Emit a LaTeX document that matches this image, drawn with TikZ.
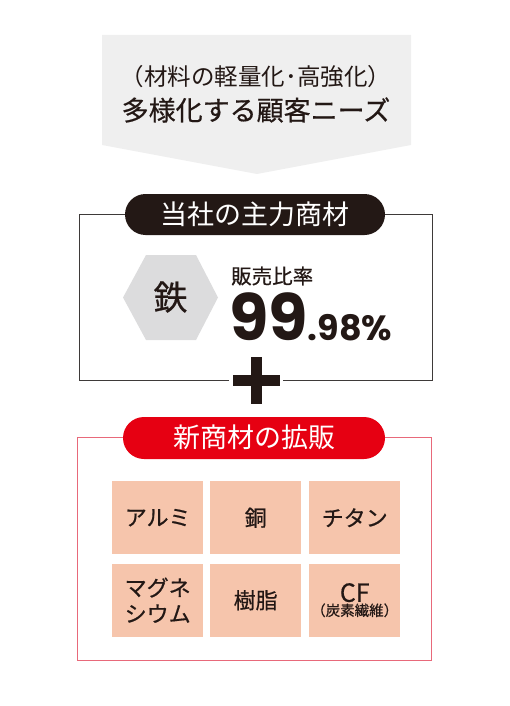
\documentclass[tikz,border=0pt]{standalone}
\usepackage{fontspec}
\setmainfont{Noto Sans CJK JP}
\newfontfamily\jp{Noto Sans CJK JP}
\newfontfamily\jpm[FakeBold=0.6]{Noto Sans CJK JP}
\newfontfamily\pop{Poppins}
\definecolor{inkdark}{HTML}{231815}
\definecolor{arrowgray}{HTML}{EFEFEF}
\definecolor{hexgray}{HTML}{DCDCDD}
\definecolor{pillred}{HTML}{E60012}
\definecolor{redline}{HTML}{E8697A}
\definecolor{tilesalmon}{HTML}{F6C5AC}
\definecolor{boxline}{HTML}{3E3A39}
\tikzset{
  pill/.style={rounded rectangle},
  pilltext/.style={text=white, font=\jp\fontsize{27}{27}\selectfont},
  tile/.style={fill=tilesalmon, minimum width=91pt, minimum height=73pt, inner sep=0pt, anchor=north west, align=center, text=inkdark, font=\jpm\fontsize{22}{26}\selectfont},
}
\usetikzlibrary{shapes.misc}
\begin{document}
\begin{tikzpicture}[x=1pt,y=-1pt]
\useasboundingbox (0,0) rectangle (510,706);
% top gray arrow
\fill[arrowgray] (102,35) -- (411,35) -- (411,145) -- (257,174) -- (102,145) -- cycle;
\node[text=inkdark, font=\jp\fontsize{23.5}{23.5}\selectfont] (need1) at (256,77) {（材料の軽量化･高強化）};
\node[text=inkdark, font=\jpm\fontsize{27}{27}\selectfont] (need2) at (256,110) {多様化する顧客ニーズ};
% main product box
\draw[boxline, line width=0.9pt] (229,380.5) -- (79,380.5) -- (79,214.5) -- (432.5,214.5) -- (432.5,380.5) -- (283,380.5);
\node[pill, fill=inkdark, minimum width=260pt, minimum height=41pt, inner sep=0pt] (mainpill) at (255,214.5) {};
\node[pilltext] (maintitle) at (255,214) {当社の主力商材};
% hexagon
\fill[hexgray] (123,297.5) -- (146,255) -- (196,255) -- (218,297.5) -- (196,340) -- (146,340) -- cycle;
\node[text=inkdark, font=\jpm\fontsize{34}{34}\selectfont] (iron) at (170.5,297) {鉄};
\node[anchor=west, text=inkdark, font=\jpm\fontsize{20.5}{20.5}\selectfont, inner sep=0pt] (ratiolbl) at (231,276) {販売比率};
\node[anchor=base west, inner sep=0pt, text=inkdark] (ratio) at (229,340) {\pop\bfseries\fontsize{64}{64}\selectfont 99\fontsize{35}{35}\selectfont .98\%};
% plus
\fill[inkdark] (250.5,356.5) rectangle (261.5,404);
\fill[inkdark] (232.5,375) rectangle (279.5,386);
% new products box
\draw[redline, line width=0.9pt] (77,437.5) rectangle (431.5,660);
\node[pill, fill=pillred, minimum width=262pt, minimum height=42pt, inner sep=0pt] (newpill) at (254,438) {};
\node[pilltext] (newtitle) at (254,437.5) {新商材の拡販};
% tiles
\node[tile] (t1) at (112,481) {アルミ};
\node[tile] (t2) at (210,481) {銅};
\node[tile] (t3) at (309,481) {チタン};
\node[tile] (t4) at (112,563.5) {マグネ\\シウム};
\node[tile] (t5) at (210,563.5) {樹脂};
\node[tile, font=\jpm\fontsize{14.5}{17}\selectfont] (t6) at (309,563.5) {\raisebox{-3pt}{\fontsize{25}{25}\selectfont CF}\\（炭素繊維）};
\end{tikzpicture}
\end{document}
